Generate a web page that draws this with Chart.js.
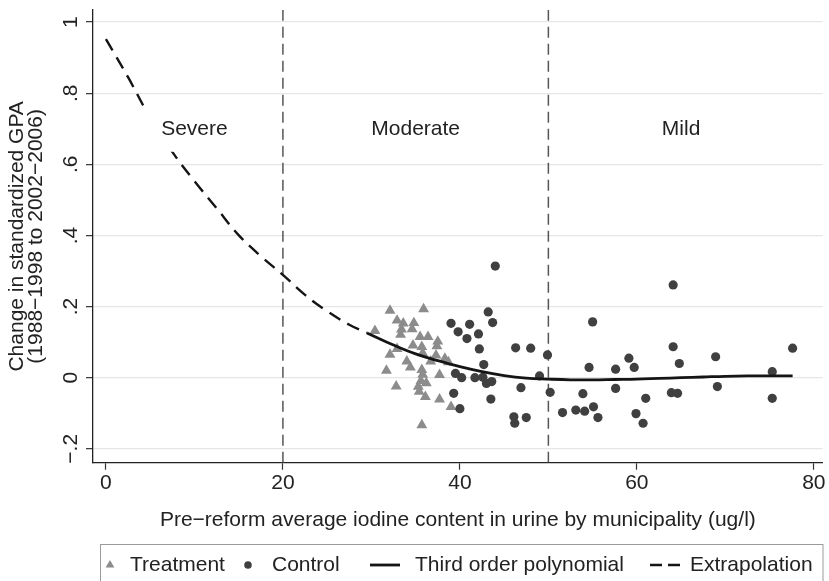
<!DOCTYPE html>
<html>
<head>
<meta charset="utf-8">
<script src="https://cdn.jsdelivr.net/npm/chart.js@4.4.1/dist/chart.umd.min.js"></script>
<style>
  html, body { margin: 0; padding: 0; background: #fff; }
</style>
</head>
<body>
<canvas id="myChart" width="829" height="581"></canvas>
<script>
// treatment municipalities (triangles)
const treatX = [32.1, 35.9, 32.9, 33.6, 34.8, 30.4, 33.4, 34.6, 33.3, 35.5, 36.4, 37.5, 34.7, 35.7, 37.4, 32.9, 35.8, 32.1, 37.3, 38.3, 34.0, 38.7, 36.7, 34.4, 31.7, 35.7, 35.8, 37.7, 35.6, 36.2, 35.3, 32.8, 35.4, 36.1, 37.7, 39.0, 35.7];
const treatY = [0.189, 0.193, 0.161, 0.153, 0.154, 0.132, 0.136, 0.137, 0.121, 0.115, 0.115, 0.102, 0.091, 0.087, 0.089, 0.081, 0.069, 0.065, 0.063, 0.054, 0.046, 0.044, 0.046, 0.029, 0.020, 0.022, 0.009, 0.008, -0.009, -0.015, -0.025, -0.024, -0.039, -0.054, -0.061, -0.082, -0.133];

// control municipalities (circles)
const ctrlX = [39.0, 39.8, 41.1, 43.2, 43.7, 42.1, 40.8, 42.2, 42.7, 39.5, 40.2, 41.7, 42.6, 43.0, 43.6, 39.3, 43.5, 40.0, 44.0, 46.3, 48.0, 49.9, 49.0, 46.9, 50.2, 46.1, 46.2, 47.5, 51.6, 53.1, 64.1, 55.0, 64.1, 64.8, 54.6, 57.6, 59.1, 59.7, 53.9, 57.6, 63.9, 64.6, 61.0, 54.1, 55.1, 55.6, 59.9, 60.7, 68.9, 77.6, 75.3, 69.1, 75.3];
const ctrlY = [0.153, 0.129, 0.150, 0.185, 0.155, 0.123, 0.110, 0.081, 0.037, 0.012, 0.000, 0.000, 0.001, -0.016, -0.011, -0.044, -0.060, -0.087, 0.314, 0.084, 0.083, 0.064, 0.005, -0.028, -0.041, -0.110, -0.128, -0.112, -0.098, -0.091, 0.261, 0.157, 0.087, 0.040, 0.029, 0.024, 0.055, 0.029, -0.045, -0.030, -0.042, -0.044, -0.058, -0.094, -0.082, -0.112, -0.101, -0.128, 0.059, 0.083, 0.017, -0.025, -0.058];

// third order polynomial (solid part = data range)
const fitX = [29.5, 32.5, 35, 37.5, 40, 42.5, 45, 47.5, 50, 52.5, 55, 57.5, 60, 62.5, 65, 67.5, 70, 72.5, 75, 77.6];
const fitY = [0.126, 0.092, 0.067, 0.048, 0.031, 0.017, 0.006, -0.001, -0.004, -0.006, -0.006, -0.005, -0.004, -0.002, 0.000, 0.002, 0.004, 0.005, 0.005, 0.005];

// extrapolation (dashed)
const extX = [0, 2.5, 5, 7.5, 10, 12.5, 15, 17.5, 20, 22.5, 25, 27.5, 29.5];
const extY = [0.952, 0.845, 0.731, 0.635, 0.553, 0.477, 0.401, 0.342, 0.289, 0.233, 0.187, 0.149, 0.126];

// deficiency regions
const cutoffs = [20, 50];
const regionNames = ['Severe', 'Moderate', 'Mild'];
const regionMid = [10, 35, 65];
const regionLabelY = 0.7;

// ticks
const xTickVals = [0, 20, 40, 60, 80];
const yTickVals = [-0.2, 0, 0.2, 0.4, 0.6, 0.8, 1];
const yTickText = ['\u2212.2', '0', '.2', '.4', '.6', '.8', '1'];

const legendNames = ['Treatment', 'Control', 'Third order polynomial', 'Extrapolation'];

const xMin = -1.46, xMax = 81;
const yMin = -0.239, yMax = 1.034;

const FONT = "'Liberation Sans', Arial, Helvetica, sans-serif";
const TRI = '#8c8c8c';
const DOT = '#404040';
const INK = '#222222';

Chart.defaults.font.family = FONT;
Chart.defaults.font.size = 21;
Chart.defaults.color = INK;

let pts = (xs, ys) => xs.map((x, i) => ({x: x, y: ys[i]}));

// region labels sit on a white box (hides the dashed curve under "Severe")
const regionPlugin = {
  id: 'regions',
  afterDatasetsDraw(chart) {
    const {ctx, scales: {x, y}} = chart;
    ctx.save();
    ctx.font = '21px ' + FONT;
    ctx.textAlign = 'center';
    ctx.textBaseline = 'middle';
    regionNames.forEach((name, i) => {
      const px = x.getPixelForValue(regionMid[i]);
      const py = y.getPixelForValue(regionLabelY);
      const w = ctx.measureText(name).width + 36;
      ctx.fillStyle = '#fff';
      ctx.fillRect(px - w / 2, py - 22, w, 45);
      ctx.fillStyle = INK;
      ctx.fillText(name, px, py);
    });
    ctx.restore();
  }
};

// Stata style legend box at the bottom
const keyPlugin = {
  id: 'keyBox',
  afterDraw(chart) {
    const ctx = chart.ctx;
    const yc = 565;
    const textX = [130, 272, 415, 690];
    ctx.save();
    ctx.strokeStyle = '#9a9a9a';
    ctx.lineWidth = 1;
    ctx.strokeRect(100.5, 544.5, 722.5, 60);

    // triangle
    ctx.fillStyle = TRI;
    ctx.beginPath();
    ctx.moveTo(110, yc - 5);
    ctx.lineTo(110 + 4.4, yc + 2.6);
    ctx.lineTo(110 - 4.4, yc + 2.6);
    ctx.closePath();
    ctx.fill();
    // circle
    ctx.fillStyle = DOT;
    ctx.beginPath();
    ctx.arc(248, yc, 3.8, 0, Math.PI * 2);
    ctx.fill();
    // solid line
    ctx.strokeStyle = '#151515';
    ctx.lineWidth = 2.8;
    ctx.beginPath();
    ctx.moveTo(370, yc);
    ctx.lineTo(400, yc);
    ctx.stroke();
    // dashed line
    ctx.lineWidth = 2.4;
    ctx.setLineDash([12, 6]);
    ctx.beginPath();
    ctx.moveTo(650, yc);
    ctx.lineTo(680, yc);
    ctx.stroke();
    ctx.setLineDash([]);

    ctx.font = '21px ' + FONT;
    ctx.fillStyle = INK;
    ctx.textAlign = 'left';
    ctx.textBaseline = 'middle';
    legendNames.forEach((t, i) => ctx.fillText(t, textX[i], yc));
    ctx.restore();
  }
};

const datasets = [
  {
    label: 'Treatment',
    data: pts(treatX, treatY),
    pointStyle: 'triangle',
    pointRadius: 6.3,
    backgroundColor: TRI,
    borderColor: TRI,
    borderWidth: 0,
    order: 4
  },
  {
    label: 'Control',
    data: pts(ctrlX, ctrlY),
    pointStyle: 'circle',
    pointRadius: 4.6,
    backgroundColor: DOT,
    borderColor: DOT,
    borderWidth: 0,
    order: 3
  },
  {
    label: 'Third order polynomial',
    type: 'line',
    data: pts(fitX, fitY),
    borderColor: '#151515',
    borderWidth: 2.8,
    pointRadius: 0,
    tension: 0.4,
    fill: false,
    order: 1
  },
  {
    label: 'Extrapolation',
    type: 'line',
    data: pts(extX, extY),
    borderColor: '#151515',
    borderWidth: 2.4,
    borderDash: [13, 8],
    pointRadius: 0,
    tension: 0.4,
    fill: false,
    order: 2
  }
];

cutoffs.forEach((c) => {
  datasets.push({
    label: 'cut' + c,
    type: 'line',
    data: [{x: c, y: yMin}, {x: c, y: yMax}],
    borderColor: '#555',
    borderWidth: 1.5,
    borderDash: [11, 6],
    pointRadius: 0,
    fill: false,
    order: 5
  });
});

const config = {
  type: 'scatter',
  data: {datasets: datasets},
  options: {
    responsive: false,
    animation: false,
    events: [],
    layout: {padding: {top: 10, right: 2, bottom: 48, left: 0}},
    plugins: {
      legend: {display: false},
      tooltip: {enabled: false}
    },
    scales: {
      x: {
        type: 'linear',
        min: xMin,
        max: xMax,
        afterBuildTicks: (s) => { s.ticks = xTickVals.map((v) => ({value: v})); },
        afterFit: (s) => { s.height = 70.3; s.paddingLeft = 0; s.paddingRight = 0; },
        ticks: {autoSkip: false, maxRotation: 0, padding: 1, color: INK, font: {size: 21}},
        grid: {drawOnChartArea: false, drawTicks: true, tickLength: 7, tickColor: '#333', tickWidth: 1.2},
        border: {display: true, color: '#222', width: 1.3},
        title: {
          display: true,
          text: 'Pre\u2212reform average iodine content in urine by municipality (ug/l)',
          color: INK,
          font: {size: 21},
          padding: {top: 0, bottom: 0}
        }
      },
      y: {
        type: 'linear',
        min: yMin,
        max: yMax,
        afterBuildTicks: (s) => { s.ticks = yTickVals.map((v) => ({value: v})); },
        afterFit: (s) => { s.width = 93; s.paddingTop = 0; s.paddingBottom = 0; },
        ticks: {
          autoSkip: false,
          minRotation: 90,
          maxRotation: 90,
          crossAlign: 'center',
          padding: 0,
          color: INK,
          font: {size: 21},
          callback: (v, i) => yTickText[i]
        },
        grid: {color: '#e6e6e6', lineWidth: 1.3, tickLength: 7, tickColor: '#333', tickWidth: 1.2},
        border: {display: true, color: '#222', width: 1.3},
        title: {
          display: true,
          text: ['Change in standardized GPA', '(1988\u22121998 to 2002\u22122006)'],
          color: INK,
          font: {size: 21, lineHeight: 0.9},
          padding: {top: 7.5, bottom: 0}
        }
      }
    }
  },
  plugins: [regionPlugin, keyPlugin]
};

const chart = new Chart(document.getElementById('myChart'), config);
</script>
</body>
</html>
